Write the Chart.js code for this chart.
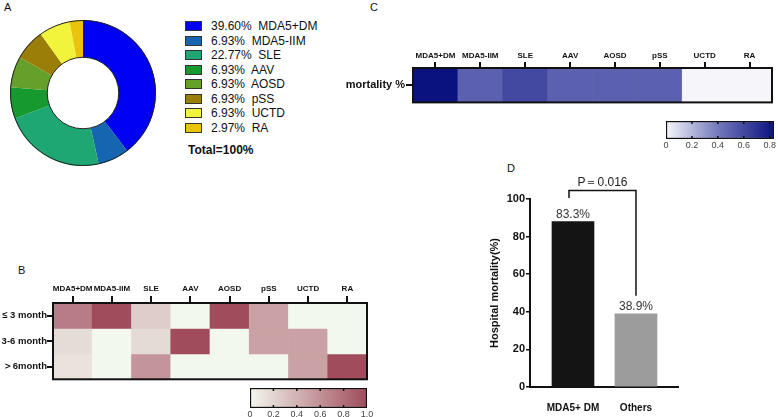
<!doctype html>
<html>
<head>
<meta charset="utf-8">
<title>Mortality panels</title>
<script src="https://cdn.jsdelivr.net/npm/chart.js@4.4.1/dist/chart.umd.min.js"></script>
<style>
	body { margin: 0; width: 778px; height: 417px; position: relative; overflow: hidden; background: #fff;
		font-family: 'Liberation Sans', Arial, sans-serif; color: #111; }
	canvas, .letter, #legendA, #totalA { position: absolute; }
	.letter { font-size: 11px; line-height: 11px; }
	#legendA { left: 185px; top: 19px; font-size: 12px; }
	#legendA .row { position: relative; height: 14.5px; line-height: 14.5px; white-space: pre; }
	#legendA .box { position: absolute; left: 0; top: 2px; width: 17px; height: 10px; border: 1px solid #333; box-sizing: border-box; }
	#legendA .txt { position: absolute; left: 26px; top: 0; }
	#totalA { left: 188px; top: 143px; font-size: 12px; line-height: 14px; font-weight: bold; }
</style>
</head>
<body>
	<div class="letter" style="left:4px;top:2px">A</div>
	<div class="letter" style="left:370px;top:2px">C</div>
	<div class="letter" style="left:18px;top:265px">B</div>
	<div class="letter" style="left:507px;top:163px">D</div>

	<canvas id="donut" width="146" height="146" style="left:10px;top:20px"></canvas>
	<div id="legendA"></div>
	<div id="totalA">Total=100%</div>

	<canvas id="heatC" width="448" height="70" style="left:330px;top:40px"></canvas>
	<canvas id="barC" width="124" height="40" style="left:654px;top:116px"></canvas>

	<canvas id="heatB" width="380" height="115" style="left:0px;top:270px"></canvas>
	<canvas id="barB" width="140" height="34" style="left:238px;top:383px"></canvas>

	<canvas id="chartD" width="225" height="257" style="left:470px;top:160px"></canvas>

	<script>
		// panel A
		const diseases = ['MDA5+DM', 'MDA5-IIM', 'SLE', 'AAV', 'AOSD', 'pSS', 'UCTD', 'RA'];
		const shares = [39.60, 6.93, 22.77, 6.93, 6.93, 6.93, 6.93, 2.97];
		const shareColors = ['#0000F2', '#1665B1', '#1EA773', '#16992F', '#64A02A', '#9A7E07', '#F2F43C', '#EAC30C'];

		// panel C
		const mortality = [0.833, 0.5, 0.6, 0.5, 0.5, 0.5, 0, 0];
		const mortalityTicks = [0, 0.2, 0.4, 0.6, 0.8];

		// panel B (fraction of deaths by time from onset)
		const timeRows = ['≤ 3 month', '3-6 month', '＞6month'];
		const within3 = [0.72, 1, 0.25, 0, 1, 0.5, 0, 0];
		const from3to6 = [0.16, 0, 0.17, 1, 0, 0.5, 0.5, 0];
		const over6 = [0.12, 0, 0.58, 0, 0, 0, 0.5, 1];
		const fractionTicks = [0, 0.2, 0.4, 0.6, 0.8, 1.0];

		// panel D
		const groups = ['MDA5+ DM', 'Others'];
		const hospitalMortality = [88, 38.9];
		const barLabels = ['83.3%', '38.9%'];
		const percentTicks = [0, 20, 40, 60, 80, 100];
		const pText = 'P＝0.016';

		Chart.defaults.font.family = "'Liberation Sans', Arial, sans-serif";
		Chart.defaults.color = '#111';
		Chart.defaults.animation = false;
		Chart.defaults.responsive = false;
		Chart.defaults.plugins.legend.display = false;
		Chart.defaults.plugins.tooltip.enabled = false;

		const blueStops = [[0, [246, 246, 250]], [0.4, [116, 121, 189]], [0.833, [10, 18, 128]]];
		const redStops = [[0, [243, 248, 238]], [1, [160, 76, 92]]];

		function colorAt(stops, v) {
			if (v <= stops[0][0]) return 'rgb(' + stops[0][1].join(',') + ')';
			for (let i = 1; i < stops.length; i++) {
				if (v <= stops[i][0]) {
					const t = (v - stops[i - 1][0]) / (stops[i][0] - stops[i - 1][0]);
					const c = stops[i][1].map((x, k) => Math.round(stops[i - 1][1][k] + (x - stops[i - 1][1][k]) * t));
					return 'rgb(' + c.join(',') + ')';
				}
			}
			return 'rgb(' + stops[stops.length - 1][1].join(',') + ')';
		}

		// ---------- A: doughnut ----------
		const ringOutline = {
			id: 'ringOutline',
			afterDatasetsDraw(chart) {
				const arc = chart.getDatasetMeta(0).data[0];
				const ctx = chart.ctx;
				ctx.save();
				ctx.strokeStyle = '#222';
				ctx.lineWidth = 1;
				ctx.beginPath();
				ctx.arc(arc.x, arc.y, arc.outerRadius - 0.5, 0, Math.PI * 2);
				ctx.stroke();
				ctx.beginPath();
				ctx.arc(arc.x, arc.y, arc.innerRadius, 0, Math.PI * 2);
				ctx.stroke();
				ctx.restore();
			}
		};

		new Chart(document.getElementById('donut'), {
			type: 'doughnut',
			data: {
				labels: diseases,
				datasets: [{ data: shares, backgroundColor: shareColors, borderWidth: 0 }]
			},
			options: { cutout: '49%' },
			plugins: [ringOutline]
		});

		const legendA = document.getElementById('legendA');
		diseases.forEach((name, i) => {
			const row = document.createElement('div');
			row.className = 'row';
			row.innerHTML = '<span class="box" style="background:' + shareColors[i] + '"></span>' +
				'<span class="txt">' + shares[i].toFixed(2) + '%  ' + name + '</span>';
			legendA.appendChild(row);
		});

		// ---------- heatmaps (B, C) ----------
		const boxOutline = {
			id: 'boxOutline',
			afterDatasetsDraw(chart) {
				const a = chart.chartArea;
				const ctx = chart.ctx;
				ctx.save();
				ctx.strokeStyle = '#111';
				ctx.lineWidth = 2;
				ctx.strokeRect(a.left, a.top, a.right - a.left, a.bottom - a.top);
				ctx.restore();
			}
		};

		function heatmap(id, rows, rowLabels, stops, sizes) {
			return new Chart(document.getElementById(id), {
				type: 'bar',
				data: {
					labels: diseases,
					datasets: rows.map((vals, i) => ({
						label: rowLabels[i],
						data: vals.map(() => 1),
						backgroundColor: vals.map(v => colorAt(stops, v)),
						borderWidth: 0,
						barPercentage: 1,
						categoryPercentage: 1
					}))
				},
				options: {
					layout: { padding: sizes.padding },
					scales: {
						x: {
							position: 'top',
							stacked: true,
							ticks: { font: { size: 8, weight: 'bold' }, padding: sizes.xPad, maxRotation: 0, autoSkip: false },
							grid: { offset: false, drawOnChartArea: false, tickLength: sizes.xTick, color: '#111', lineWidth: 2 },
							border: { display: false },
							afterFit: s => { s.height = sizes.top; }
						},
						y: {
							stacked: true,
							reverse: true,
							min: 0,
							max: rows.length,
							afterBuildTicks: s => { s.ticks = rowLabels.map((r, i) => ({ value: i + 0.5 })); },
							ticks: { callback: (v, i) => rowLabels[i], font: { size: sizes.yFont, weight: 'bold' }, padding: sizes.yPad },
							grid: { drawOnChartArea: false, tickLength: sizes.yTick, color: '#111', lineWidth: 2 },
							border: { display: false },
							afterFit: s => { s.width = sizes.left; }
						}
					}
				},
				plugins: [boxOutline]
			});
		}

		heatmap('heatC', [mortality], ['mortality %'], blueStops,
			{ padding: { right: 6, bottom: 7 }, top: 28, left: 83, xTick: 6, xPad: 1, yTick: 7, yFont: 11, yPad: 1 });
		heatmap('heatB', [within3, from3to6, over6], timeRows, redStops,
			{ padding: { right: 13, bottom: 5 }, top: 33, left: 53, xTick: 7, xPad: 2, yTick: 6, yFont: 9.5, yPad: 0 });

		// ---------- colour scales ----------
		const notches = {
			id: 'notches',
			afterDatasetsDraw(chart) {
				const a = chart.chartArea;
				const sx = chart.scales.x;
				const ctx = chart.ctx;
				ctx.save();
				ctx.strokeStyle = '#111';
				ctx.lineWidth = 1.5;
				sx.ticks.slice(1).forEach(t => {
					const px = sx.getPixelForValue(t.value);
					if (px >= a.right - 2) return;
					ctx.beginPath();
					ctx.moveTo(px, a.top); ctx.lineTo(px, a.top + 3);
					ctx.moveTo(px, a.bottom); ctx.lineTo(px, a.bottom - 3);
					ctx.stroke();
				});
				ctx.restore();
			}
		};

		function colorScale(id, stops, maxVal, tickVals, padding, axisHeight, fontSize) {
			return new Chart(document.getElementById(id), {
				type: 'bar',
				data: {
					labels: ['scale'],
					datasets: [{
						data: [[0, maxVal]],
						backgroundColor(c) {
							const a = c.chart.chartArea;
							if (!a) return null;
							const g = c.chart.ctx.createLinearGradient(a.left, 0, a.right, 0);
							stops.forEach(s => g.addColorStop(Math.min(s[0] / maxVal, 1), colorAt(stops, s[0])));
							return g;
						},
						borderColor: '#111',
						borderWidth: 1.5,
						borderSkipped: false,
						barPercentage: 1,
						categoryPercentage: 1
					}]
				},
				options: {
					indexAxis: 'y',
					layout: { padding },
					scales: {
						x: {
							min: 0,
							max: maxVal,
							afterBuildTicks: s => { s.ticks = tickVals.map(v => ({ value: v })); },
							ticks: { font: { size: fontSize }, color: '#444', padding: 1, maxRotation: 0, autoSkip: false,
								callback: v => (v === 0 ? '0' : (tickVals.includes(1.0) ? v.toFixed(1) : String(v))) },
							grid: { display: false, drawTicks: false },
							border: { display: false },
							afterFit: s => { s.height = axisHeight; }
						},
						y: { display: false }
					}
				},
				plugins: [notches]
			});
		}

		colorScale('barC', blueStops, 0.833, mortalityTicks, { left: 12, top: 5, right: 4 }, 17, 9);
		colorScale('barB', redStops, 1, fractionTicks, { left: 12, top: 5, right: 11 }, 9, 9);

		// ---------- D: bar chart ----------
		const barAnnotations = {
			id: 'barAnnotations',
			afterDatasetsDraw(chart) {
				const ctx = chart.ctx;
				const ys = chart.scales.y;
				const bars = chart.getDatasetMeta(0).data;
				ctx.save();
				ctx.fillStyle = '#333';
				ctx.font = "12px 'Liberation Sans', Arial, sans-serif";
				ctx.textAlign = 'center';
				ctx.textBaseline = 'middle';
				bars.forEach((b, i) => ctx.fillText(barLabels[i], b.x, b.y - 7));

				// significance bracket
				const x1 = bars[0].x - 4;
				const x2 = bars[1].x;
				const yTop = ys.getPixelForValue(104.5);
				ctx.strokeStyle = '#111';
				ctx.lineWidth = 1.5;
				ctx.beginPath();
				ctx.moveTo(x1, ys.getPixelForValue(100.5));
				ctx.lineTo(x1, yTop);
				ctx.lineTo(x2, yTop);
				ctx.lineTo(x2, ys.getPixelForValue(48.5));
				ctx.stroke();
				ctx.fillStyle = '#222';
				ctx.fillText(pText, (x1 + x2) / 2, ys.getPixelForValue(108.5));
				ctx.restore();
			}
		};

		new Chart(document.getElementById('chartD'), {
			type: 'bar',
			data: {
				datasets: [{
					data: groups.map((g, i) => ({ x: i + 1, y: hospitalMortality[i] })),
					backgroundColor: ['#141414', '#9C9C9C'],
					barThickness: 42
				}]
			},
			options: {
				layout: { padding: { top: 39, right: 17 } },
				scales: {
					x: {
						type: 'linear',
						min: 0.3175,
						max: 2.667,
						offset: false,
						afterBuildTicks: s => { s.ticks = groups.map((g, i) => ({ value: i + 1 })); },
						ticks: { callback: (v, i) => groups[i], font: { size: 10, weight: 'bold' }, padding: 15, maxRotation: 0, autoSkip: false },
						grid: { display: false, drawTicks: false },
						border: { color: '#111', width: 2 },
						afterFit: s => { s.height = 30; }
					},
					y: {
						min: 0,
						max: 100,
						afterBuildTicks: s => { s.ticks = percentTicks.map(v => ({ value: v })); },
						ticks: { font: { size: 11, weight: 'bold' }, padding: 1 },
						grid: { drawOnChartArea: false, tickLength: 4, color: '#111', lineWidth: 1.5 },
						border: { color: '#111', width: 2 },
						title: { display: true, text: 'Hospital mortality(%)', font: { size: 11, weight: 'bold' }, padding: { top: 18, bottom: 0 } },
						afterFit: s => { s.width = 60; }
					}
				}
			},
			plugins: [barAnnotations]
		});
	</script>
</body>
</html>
